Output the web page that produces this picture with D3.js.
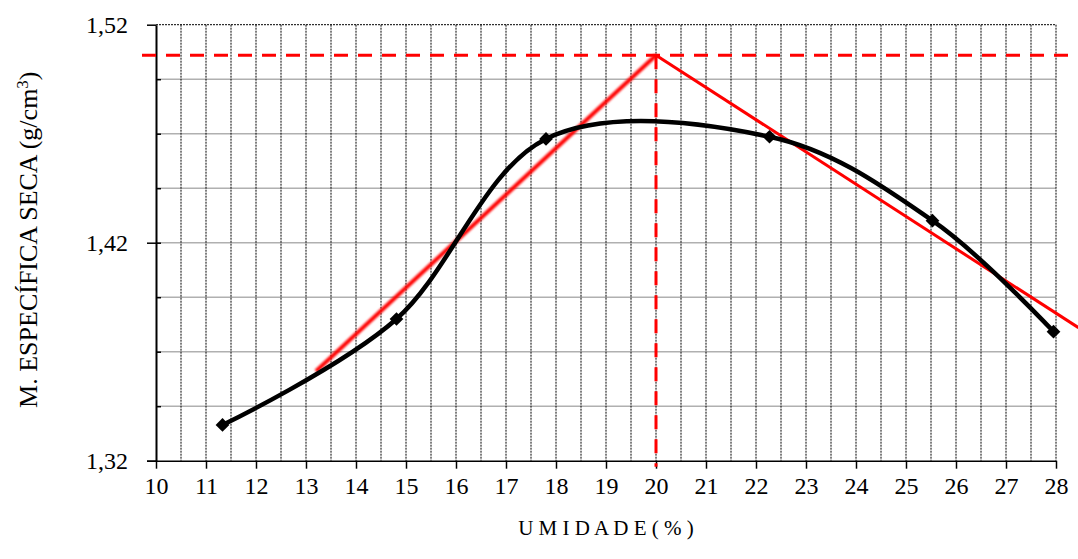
<!DOCTYPE html>
<html>
<head>
<meta charset="utf-8">
<script src="https://cdn.jsdelivr.net/npm/d3@7"></script>
<style>
  body { margin: 0; background: #fff; }
  text { font-family: "Liberation Serif", "Times New Roman", serif; fill: #000; }
</style>
</head>
<body>
<div id="container"></div>
<script>
// data
const umidade = [11.33, 14.81, 17.8, 22.27, 25.53, 27.95];
const massa = [1.3364, 1.385, 1.4676, 1.4686, 1.4301, 1.3792];
const xTicks = [10, 11, 12, 13, 14, 15, 16, 17, 18, 19, 20, 21, 22, 23, 24, 25, 26, 27, 28];
const yTicks = [1.32, 1.42, 1.52];
const leftTangent = [[13.2, 1.361], [20, 1.506]];
const rightTangent = [[20, 1.506], [28.45, 1.381]];
const optimo = { x: 20, y: 1.506 };

const width = 1078, height = 559;
const mLeft = 156, mRight = 1056, mTop = 24.7, mBottom = 460.7;

const svg = d3.select('#container').append('svg')
    .attr('width', width)
    .attr('height', height);

const x = d3.scaleLinear().domain([10, 28]).range([mLeft, mRight]);
const y = d3.scaleLinear().domain([1.32, 1.52]).range([mBottom, mTop]);

// horizontal grid (gray) every 0.025
const hGrid = d3.range(1, 8).map(i => 1.32 + i * 0.025);
svg.append('g')
    .selectAll('line')
    .data(hGrid)
    .enter()
    .append('line')
        .attr('x1', mLeft).attr('x2', mRight)
        .attr('y1', d => y(d)).attr('y2', d => y(d))
        .attr('stroke', '#b0b0b0')
        .attr('stroke-width', 1.5);

// vertical grid (dotted) every 0.5
const vGrid = d3.range(1, 37).map(i => 10 + i * 0.5);
svg.append('g')
    .selectAll('line')
    .data(vGrid)
    .enter()
    .append('line')
        .attr('x1', d => x(d)).attr('x2', d => x(d))
        .attr('y1', mTop).attr('y2', mBottom)
        .attr('stroke', '#000')
        .attr('stroke-width', 1)
        .attr('stroke-dasharray', '2,1');

// top border dotted
svg.append('line')
    .attr('x1', mLeft).attr('x2', mRight)
    .attr('y1', y(1.52)).attr('y2', y(1.52))
    .attr('stroke', '#000')
    .attr('stroke-dasharray', '2,1');

// x axis
const xAxis = d3.axisBottom(x)
    .tickValues(xTicks)
    .tickSize(8)
    .tickSizeOuter(0)
    .tickPadding(8)
    .tickFormat(d3.format('d'));
const gx = svg.append('g')
    .attr('transform', `translate(0,${mBottom})`)
    .call(xAxis);
gx.select('.domain').attr('d', `M${mLeft - 9},0.5H${mRight}`).attr('stroke-width', 1.5);
gx.selectAll('.tick line').attr('stroke-width', 1.5);
gx.selectAll('.tick text')
    .attr('font-family', '"Liberation Serif", serif')
    .attr('font-size', 24);

// y axis: minor ticks inside
const yMinor = d3.axisRight(y)
    .tickValues(hGrid)
    .tickSize(5)
    .tickFormat('');
const gyMinor = svg.append('g')
    .attr('transform', `translate(${mLeft},0)`)
    .call(yMinor);
gyMinor.select('.domain').remove();
gyMinor.selectAll('.tick line').attr('stroke-width', 1.5);

const yAxis = d3.axisLeft(y)
    .tickValues(yTicks)
    .tickSize(9)
    .tickSizeOuter(0)
    .tickPadding(19)
    .tickFormat(d => d3.format('.2f')(d).replace('.', ','));
const gy = svg.append('g')
    .attr('transform', `translate(${mLeft},0)`)
    .call(yAxis);
gy.select('.domain').attr('stroke-width', 2);
gy.selectAll('.tick line').attr('stroke-width', 1.5);
gy.selectAll('.tick text')
    .attr('font-family', '"Liberation Serif", serif')
    .attr('font-size', 24);

// blur for the left tangent
const defs = svg.append('defs');
defs.append('filter')
    .attr('id', 'soft')
    .attr('x', '-10%').attr('y', '-10%')
    .attr('width', '120%').attr('height', '120%')
    .append('feGaussianBlur')
    .attr('stdDeviation', 1.3);

const line = d3.line().x(d => x(d[0])).y(d => y(d[1]));

// red dashed guides
svg.append('line')
    .attr('x1', mLeft - 14).attr('x2', width)
    .attr('y1', y(optimo.y)).attr('y2', y(optimo.y))
    .attr('stroke', '#ff0000')
    .attr('stroke-width', 3)
    .attr('stroke-dasharray', '14,10');
svg.append('line')
    .attr('x1', x(optimo.x)).attr('x2', x(optimo.x))
    .attr('y1', y(optimo.y)).attr('y2', mBottom + 6)
    .attr('stroke', '#ff0000')
    .attr('stroke-width', 3)
    .attr('stroke-dasharray', '14,10');

// tangent lines
svg.append('path')
    .attr('d', line(leftTangent))
    .attr('fill', 'none')
    .attr('stroke', '#ff0000')
    .attr('stroke-width', 4)
    .attr('filter', 'url(#soft)');
svg.append('path')
    .attr('d', line(rightTangent))
    .attr('fill', 'none')
    .attr('stroke', '#ff0000')
    .attr('stroke-width', 3);

// smoothed compaction curve
const pts = umidade.map((u, i) => [u, massa[i]]);
svg.append('path')
    .attr('d', d3.line().x(d => x(d[0])).y(d => y(d[1])).curve(d3.curveCatmullRom.alpha(0))(pts))
    .attr('fill', 'none')
    .attr('stroke', '#000')
    .attr('stroke-width', 4.5);

svg.append('g')
    .selectAll('path')
    .data(pts)
    .enter()
    .append('path')
        .attr('d', d3.symbol().type(d3.symbolDiamond2).size(120))
        .attr('transform', d => `translate(${x(d[0])},${y(d[1])})`)
        .attr('fill', '#000');

// axis titles
svg.append('text')
    .attr('x', 606)
    .attr('y', 535)
    .attr('text-anchor', 'middle')
    .attr('font-size', 21)
    .text('U M I D A D E ( % )');

svg.append('text')
    .attr('transform', `translate(37,${(mTop + mBottom) / 2 - 3}) rotate(-90)`)
    .attr('text-anchor', 'middle')
    .attr('font-size', 26)
    .html('M. ESPECÍFICA SECA (g/cm<tspan baseline-shift="super" font-size="17">3</tspan>)');
</script>
</body>
</html>
